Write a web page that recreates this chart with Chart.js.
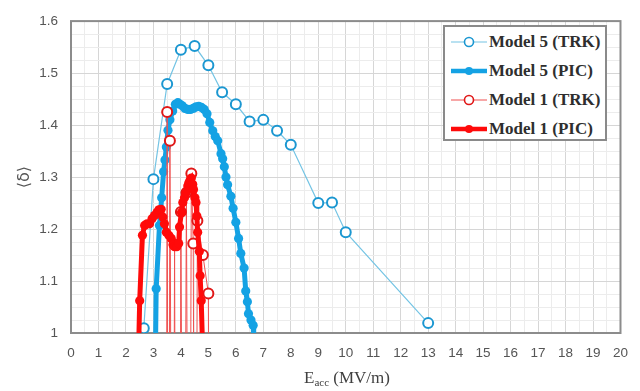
<!DOCTYPE html>
<html lang="en">
<head>
<meta charset="UTF-8">
<title>Model 1 / Model 5 - delta vs Eacc</title>
<script src="https://cdn.jsdelivr.net/npm/chart.js@4.4.1/dist/chart.umd.min.js"></script>
<style>
    body { margin: 0; background: #fff; }
    #wrap { position: relative; width: 640px; height: 391px; }
    #chart { position: absolute; left: 0; top: 0; }
    #legend {
        position: absolute; left: 443px; top: 25px; width: 160px; height: 112px;
        background: #fff; border: 2px solid #8a8a8a;
        font: bold 17px "Liberation Serif", "DejaVu Serif", serif; color: #2e2e2e;
    }
    .row { display: flex; align-items: center; height: 29px; padding-left: 6px; }
    .row svg { margin-right: 2px; flex: none; }
    #xtitle {
        position: absolute; left: 71px; width: 552px; top: 368px; text-align: center;
        font: 17px "Liberation Serif", "DejaVu Serif", serif; color: #404040;
    }
    #xtitle sub { font-size: 11px; vertical-align: -3px; }
</style>
</head>
<body>
<div id="wrap">
    <canvas id="chart" width="640" height="391"></canvas>
    <div id="legend"></div>
    <div id="xtitle">E<sub>acc</sub> (MV/m)</div>
</div>
<script>
// series labels (legend order)
const seriesLabels = ['Model 5 (TRK)', 'Model 5 (PIC)', 'Model 1 (TRK)', 'Model 1 (PIC)'];

// Model 5 tracking
const trk5X = [2.65, 3.0, 3.5, 4.0, 4.5, 5.0, 5.5, 6.0, 6.5, 7.0, 7.5, 8.0, 9.0, 9.5, 10.0, 13.0];
const trk5Y = [1.009, 1.296, 1.479, 1.545, 1.552, 1.515, 1.463, 1.44, 1.407, 1.41, 1.389, 1.362, 1.25, 1.251, 1.194, 1.019];

// Model 5 PIC
const pic5X = [3.08, 3.1, 3.22, 3.3, 3.37, 3.42, 3.47, 3.53, 3.6, 3.7, 3.8, 3.89, 3.97, 4.05, 4.15, 4.25, 4.35, 4.45,
    4.55, 4.65, 4.75, 4.85, 4.95, 5.05, 5.16, 5.25, 5.34, 5.46, 5.52, 5.58, 5.64, 5.7, 5.82, 5.9, 6.0, 6.1, 6.18,
    6.3, 6.36, 6.42, 6.46, 6.55, 6.63, 6.65];
const pic5Y = [0.99, 1.085, 1.207, 1.26, 1.31, 1.333, 1.358, 1.39, 1.41, 1.427, 1.44, 1.443, 1.44, 1.437, 1.432, 1.43, 1.43, 1.432,
    1.435, 1.436, 1.434, 1.43, 1.422, 1.405, 1.389, 1.378, 1.37, 1.345, 1.335, 1.32, 1.3, 1.285, 1.263, 1.24, 1.213, 1.182, 1.153,
    1.125, 1.081, 1.06, 1.037, 1.025, 1.015, 0.99];

// Model 1 tracking (0 = no transmission at that field)
const trk1X = [3.45, 3.5, 3.55, 3.6, 3.7, 3.77, 3.83, 3.95, 4.0, 4.1, 4.2, 4.3, 4.38, 4.45, 4.52, 4.6, 4.8, 5.0, 5.05];
const trk1Y = [0, 1.425, 0, 1.37, 0, 1.17, 0, 0, 1.233, 0, 1.27, 0, 1.307, 1.172, 0, 1.216, 1.15, 1.076, 0];

// Model 1 PIC
const pic1X = [2.47, 2.5, 2.6, 2.68, 2.77, 2.86, 2.95, 3.04, 3.13, 3.2, 3.28, 3.34, 3.4, 3.47, 3.56, 3.65, 3.72, 3.77,
    3.85, 3.92, 3.95, 4.02, 4.07, 4.13, 4.19, 4.25, 4.29, 4.34, 4.38, 4.43, 4.46, 4.51, 4.55, 4.58, 4.61, 4.67, 4.7, 4.74, 4.78];
const pic1Y = [0.99, 1.062, 1.188, 1.207, 1.21, 1.21, 1.22, 1.226, 1.232, 1.237, 1.238, 1.223, 1.21, 1.194, 1.188, 1.182, 1.17, 1.166,
    1.166, 1.172, 1.204, 1.232, 1.251, 1.26, 1.27, 1.283, 1.289, 1.295, 1.298, 1.286, 1.276, 1.26, 1.251, 1.225, 1.194, 1.157, 1.11, 1.062, 0.99];

const toPoints = (xs, ys) => xs.map((x, i) => ({ x: x, y: ys[i] }));
const hideLow = ctx => (ctx.raw && ctx.raw.y < 1 ? 0 : ctx.dataset.markerSize);

const styles = [
    { line: '#74c4e4', mark: '#1b97d1', lineWidth: 1.2, size: 5, open: true },
    { line: '#14a2e4', mark: '#14a2e4', lineWidth: 5, size: 4.6, open: false },
    { line: '#f05050', mark: '#e01818', lineWidth: 1, size: 5, open: true },
    { line: '#ff0a0a', mark: '#ff0a0a', lineWidth: 5, size: 4.6, open: false }
];
const seriesData = [toPoints(trk5X, trk5Y), toPoints(pic5X, pic5Y), toPoints(trk1X, trk1Y), toPoints(pic1X, pic1Y)];

const datasets = seriesData.map((pts, i) => ({
    label: seriesLabels[i],
    data: pts,
    showLine: true,
    order: 4 - i,
    borderColor: styles[i].line,
    borderWidth: styles[i].lineWidth,
    markerSize: styles[i].size,
    pointRadius: hideLow,
    pointHoverRadius: hideLow,
    pointBorderColor: styles[i].mark,
    pointBorderWidth: styles[i].open ? 2 : 0,
    pointBackgroundColor: styles[i].open ? '#ffffff' : styles[i].mark,
    tension: 0
}));

const isMajor = (v, step) => Math.abs(v / step - Math.round(v / step)) < 1e-6;

const plotFrame = {
    id: 'plotFrame',
    beforeDatasetsDraw(chart) {
        const a = chart.chartArea, c = chart.ctx;
        c.save();
        c.strokeStyle = '#8c8c8c';
        c.lineWidth = 2;
        c.strokeRect(a.left, a.top, a.right - a.left, a.bottom - a.top);
        c.restore();
    }
};

new Chart(document.getElementById('chart'), {
    type: 'scatter',
    data: { datasets: datasets },
    plugins: [plotFrame],
    options: {
        responsive: false,
        animation: false,
        devicePixelRatio: 1,
        layout: { padding: { top: 15, right: 17, left: 0, bottom: 0 } },
        plugins: { legend: { display: false }, tooltip: { enabled: false } },
        scales: {
            x: {
                type: 'linear', min: 0, max: 20,
                afterFit: s => { s.height = 58; },
                border: { display: false },
                grid: {
                    drawTicks: false,
                    color: ctx => isMajor(ctx.tick.value, 1) ? '#d6d6d6' : '#ececec'
                },
                ticks: {
                    stepSize: 0.5, autoSkip: false, maxRotation: 0, padding: 12,
                    color: '#555555', font: { family: 'Liberation Sans', size: 13.5 },
                    callback: v => isMajor(v, 1) ? String(Math.round(v)) : ''
                }
            },
            y: {
                type: 'linear', min: 1, max: 1.6,
                afterFit: s => { s.width = 71; },
                border: { display: false },
                grid: {
                    drawTicks: false,
                    color: ctx => isMajor(ctx.tick.value, 0.1) ? '#d6d6d6' : '#ececec'
                },
                ticks: {
                    stepSize: 0.025, autoSkip: false, padding: 13,
                    color: '#555555', font: { family: 'Liberation Sans', size: 13.5 },
                    callback: v => isMajor(v, 0.1) ? String(+v.toFixed(1)) : ''
                },
                title: {
                    display: true, text: '⟨δ⟩', color: '#555555',
                    font: { family: 'DejaVu Sans', size: 16 },
                    padding: { top: 15, bottom: 0 }
                }
            }
        }
    }
});

// legend drawn as html, built from the same labels and styles
const legend = document.getElementById('legend');
seriesLabels.forEach((label, i) => {
    const s = styles[i];
    const row = document.createElement('div');
    row.className = 'row';
    const fill = s.open ? '#ffffff' : s.mark;
    const r = s.open ? 4.5 : 4;
    row.innerHTML =
        '<svg width="36" height="14"><line x1="0" y1="7" x2="36" y2="7" stroke="' + s.line +
        '" stroke-width="' + (s.open ? 1.2 : 4.5) + '"/><circle cx="18" cy="7" r="' + r + '" fill="' + fill +
        '" stroke="' + s.mark + '" stroke-width="' + (s.open ? 1.6 : 0) + '"/></svg><span>' + label + '</span>';
    legend.appendChild(row);
});
</script>
</body>
</html>
